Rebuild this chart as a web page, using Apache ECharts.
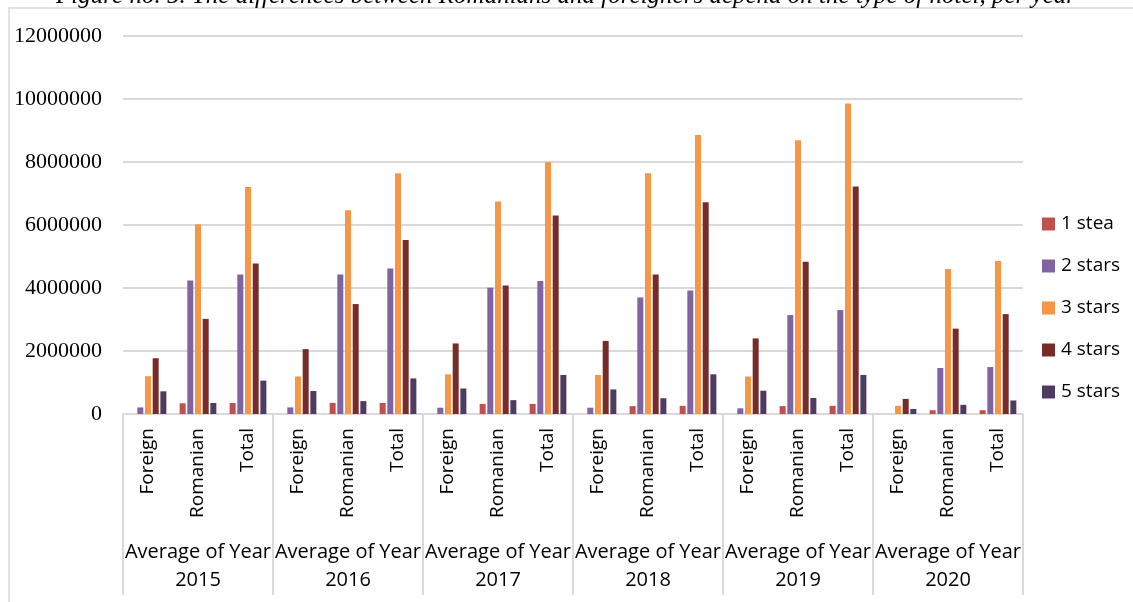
<!DOCTYPE html>
<html>
<head>
<meta charset="utf-8">
<title>Hotels by stars</title>
<script src="https://cdn.jsdelivr.net/npm/echarts@6/dist/echarts.min.js"></script>
<style>
    html, body{
        margin: 0;
        padding: 0;
        background: #fff;
    }
    .myEcharts{
        width: 1133px;
        height: 602px;
    }
</style>
</head>
<body>
<div class="myEcharts" id="myEcharts"></div>
<script>
    // categories
    var years = ['2015', '2016', '2017', '2018', '2019', '2020'];
    var types = ['Foreign', 'Romanian', 'Total'];
    var yTicks = [0, 2000000, 4000000, 6000000, 8000000, 10000000, 12000000];

    // values, per year: Foreign, Romanian, Total
    var oneStar = [0, 340000, 350000, 0, 350000, 350000, 0, 320000, 320000, 0, 250000, 260000, 0, 250000, 260000, 0, 120000, 120000];
    var twoStars = [210000, 4240000, 4430000, 210000, 4430000, 4620000, 200000, 4010000, 4220000, 200000, 3700000, 3920000, 180000, 3140000, 3300000, 0, 1460000, 1490000];
    var threeStars = [1200000, 6020000, 7210000, 1190000, 6470000, 7640000, 1260000, 6750000, 8000000, 1240000, 7640000, 8860000, 1190000, 8690000, 9860000, 260000, 4600000, 4860000];
    var fourStars = [1770000, 3020000, 4780000, 2060000, 3490000, 5520000, 2240000, 4080000, 6300000, 2320000, 4430000, 6720000, 2400000, 4830000, 7220000, 480000, 2710000, 3170000];
    var fiveStars = [720000, 350000, 1060000, 730000, 410000, 1130000, 810000, 440000, 1240000, 780000, 500000, 1260000, 740000, 510000, 1240000, 160000, 290000, 430000];

    var seriesNames = ['1 stea', '2 stars', '3 stars', '4 stars', '5 stars'];
    var seriesData = [oneStar, twoStars, threeStars, fourStars, fiveStars];
    var colors = ['#C0504D', '#8064A2', '#F79646', '#772C2A', '#4D3B62'];

    var xCats = [];
    years.forEach(function (y) {
        types.forEach(function (t) {
            xCats.push(t);
        });
    });
    var yearLabels = years.map(function (y) {
        return 'Average of Year\n' + y;
    });

    var sansFont = '"Open Sans", sans-serif';
    var serifFont = '"Liberation Serif", "DejaVu Serif", serif';

    var series = seriesData.map(function (d, i) {
        return {
            name: seriesNames[i],
            type: 'bar',
            data: d,
            barWidth: 6,
            barGap: '28%',
            itemStyle: {color: colors[i]}
        };
    });

    var options = {
        animation: false,
        color: colors,
        grid: {
            left: 123,
            right: 110,
            top: 36,
            bottom: 188
        },
        graphic: [
            {
                type: 'rect',
                shape: {x: 9, y: 8, width: 1140, height: 620},
                style: {fill: 'none', stroke: '#d9d9d9', lineWidth: 1.5},
                z: -1
            },
            {
                // title, cut off by the top edge as in the source
                type: 'text',
                x: 566,
                y: 9,
                style: {
                    text: 'Figure no. 5. The differences between Romanians and foreigners depend on the type of hotel, per year',
                    font: 'italic 25px ' + serifFont,
                    fill: '#000',
                    align: 'center',
                    verticalAlign: 'bottom'
                }
            }
        ],
        legend: {
            orient: 'vertical',
            left: 1037,
            top: 209,
            itemWidth: 13,
            itemHeight: 13,
            itemGap: 22,
            icon: 'rect',
            data: seriesNames,
            textStyle: {
                fontFamily: sansFont,
                fontSize: 19,
                color: '#000',
                lineHeight: 20,
                padding: [0, 0, 0, 1]
            }
        },
        xAxis: [
            {
                type: 'category',
                data: xCats,
                position: 'bottom',
                axisLine: {lineStyle: {color: '#d9d9d9', width: 2}},
                axisTick: {show: false},
                axisLabel: {
                    interval: 0,
                    rotate: 90,
                    margin: 14,
                    fontFamily: sansFont,
                    fontSize: 19,
                    color: '#000'
                }
            },
            {
                type: 'category',
                data: yearLabels,
                position: 'bottom',
                offset: 0,
                axisLine: {show: false},
                axisTick: {
                    show: true,
                    interval: 0,
                    length: 181,
                    lineStyle: {color: '#d9d9d9', width: 2}
                },
                axisLabel: {
                    interval: 0,
                    margin: 124,
                    fontFamily: sansFont,
                    fontSize: 20,
                    lineHeight: 28,
                    color: '#000',
                    align: 'center'
                }
            }
        ],
        yAxis: {
            type: 'value',
            min: yTicks[0],
            max: yTicks[yTicks.length - 1],
            interval: yTicks[1] - yTicks[0],
            axisLine: {show: false},
            axisTick: {show: false},
            splitLine: {lineStyle: {color: '#d9d9d9', width: 2}},
            axisLabel: {
                margin: 21,
                fontFamily: serifFont,
                fontSize: 22,
                color: '#000',
                formatter: function (v) {
                    return String(v);
                }
            }
        },
        series: series
    };

    var hotelEcharts = echarts.init(document.getElementById('myEcharts'));
    hotelEcharts.setOption(options);
</script>
</body>
</html>
